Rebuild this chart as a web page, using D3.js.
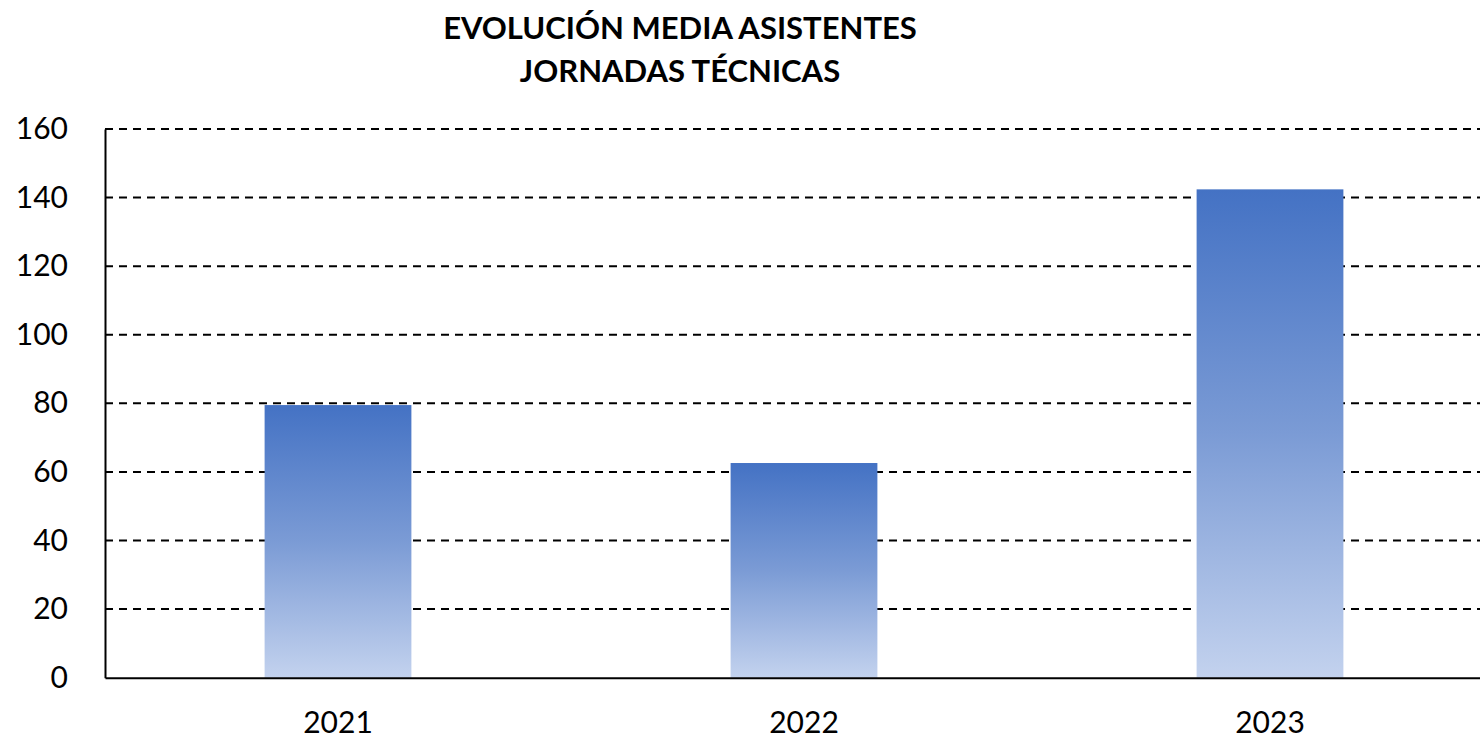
<!DOCTYPE html>
<html>
<head>
<meta charset="utf-8">
<script src="https://cdn.jsdelivr.net/npm/d3@7"></script>
<style>
  body { margin: 0; background: #fff; }
</style>
</head>
<body>
<div id="canevas"></div>
<script>
// données
let annees = ["2021", "2022", "2023"];
let asistentes = [79.5, 62.6, 142.4];
let ticks_y = [0, 20, 40, 60, 80, 100, 120, 140, 160];
let titre = ["EVOLUCIÓN MEDIA ASISTENTES", "JORNADAS TÉCNICAS"];

// dimensions
let largeur = 1480;
let hauteur = 741;
let police = "Lato, 'Open Sans', sans-serif";

let canevas = d3.select("#canevas")
  .append("svg")
  .attr("width", largeur)
  .attr("height", hauteur);

canevas.append("rect")
  .attr("width", "100%")
  .attr("height", "100%")
  .attr("fill", "#ffffff");

// echelles
let echelleX = d3.scaleBand()
  .domain(annees)
  .range([105, 1503])
  .padding(0);

let echelleY = d3.scaleLinear()
  .domain([0, 160])
  .range([677.7, 129]);

let largeurBarre = echelleX.bandwidth() * 0.315;

// dégradé des barres
let defs = canevas.append("defs");
let grad = defs.append("linearGradient")
  .attr("id", "degrade")
  .attr("x1", 0).attr("y1", 0)
  .attr("x2", 0).attr("y2", 1);
grad.append("stop").attr("offset", "0%").attr("stop-color", "#4472C4");
grad.append("stop").attr("offset", "50%").attr("stop-color", "#7B9BD5");
grad.append("stop").attr("offset", "100%").attr("stop-color", "#C3D2EE");

// grille
canevas.append("g")
  .selectAll("line")
  .data(ticks_y.filter(d => d > 0))
  .enter()
  .append("line")
    .attr("x1", 105)
    .attr("x2", largeur)
    .attr("y1", d => echelleY(d))
    .attr("y2", d => echelleY(d))
    .attr("stroke", "#000")
    .attr("stroke-width", 2)
    .attr("stroke-dasharray", "8,6");

// barres
canevas.append("g")
  .selectAll("rect")
  .data(asistentes)
  .enter()
  .append("rect")
    .attr("x", (d, i) => echelleX(annees[i]) + (echelleX.bandwidth() - largeurBarre) / 2)
    .attr("y", d => echelleY(d))
    .attr("width", largeurBarre)
    .attr("height", d => echelleY(0) - echelleY(d))
    .attr("fill", "url(#degrade)");

// axes
let axeY = d3.axisLeft(echelleY).tickValues(ticks_y).tickSize(0).tickPadding(37);
let gY = canevas.append("g")
  .attr("transform", "translate(105,0)")
  .call(axeY);
gY.select(".domain").attr("stroke", "#000").attr("stroke-width", 2);
gY.selectAll("text")
  .attr("font-family", police)
  .attr("font-size", 30)
  .attr("fill", "#000");

let axeX = d3.axisBottom(echelleX).tickSize(0).tickPadding(34);
let gX = canevas.append("g")
  .attr("transform", "translate(0," + echelleY(0) + ")")
  .call(axeX);
gX.select(".domain").attr("stroke", "#000").attr("stroke-width", 2);
gX.selectAll("text")
  .attr("font-family", police)
  .attr("font-size", 30)
  .attr("fill", "#000");

// titre
canevas.append("g")
  .selectAll("text")
  .data(titre)
  .enter()
  .append("text")
    .attr("x", 680)
    .attr("y", (d, i) => 39 + i * 43)
    .attr("text-anchor", "middle")
    .attr("font-family", police)
    .attr("font-weight", "bold")
    .attr("font-size", 31)
    .attr("fill", "#000")
    .text(d => d);
</script>
</body>
</html>
